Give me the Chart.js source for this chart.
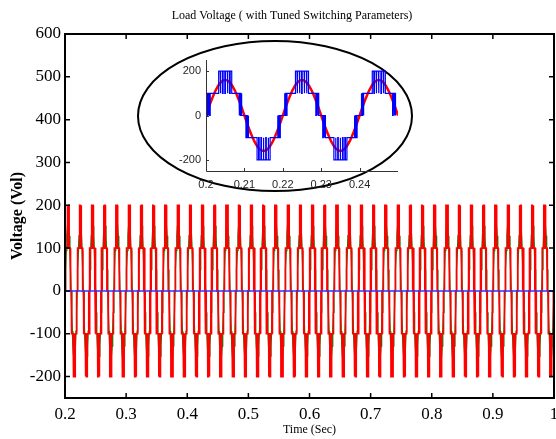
<!DOCTYPE html>
<html>
<head>
<meta charset="utf-8">
<title>Load Voltage</title>
<script src="https://cdn.jsdelivr.net/npm/chart.js@4.4.1/dist/chart.umd.min.js"></script>
<style>
  html, body { margin: 0; padding: 0; background: #fff; }
  #wrap { position: relative; width: 556px; height: 439px; }
  #mainChart { position: absolute; left: 0; top: 0; }
  #zoomChart { position: absolute; left: 140px; top: 50px; }
</style>
</head>
<body>
<div id="wrap">
  <canvas id="mainChart" width="556" height="439"></canvas>
  <canvas id="zoomChart" width="270" height="145"></canvas>
</div>
<script>
// one 50 Hz cycle of the multilevel load voltage: [ms into cycle, volts]
var loadCycle = [
    [0, 0], [0.4, 0], [0.4, 100], [0.55, 100], [0.55, 0], [0.75, 0], [0.75, 100], [0.95, 100], [0.95, 0], [1.1, 0], [1.1, 100],
    [3.3, 100], [3.3, 200], [3.7, 200], [3.7, 100], [3.85, 100], [3.85, 200], [4.3, 200], [4.3, 100], [4.45, 100], [4.45, 200],
    [4.9, 200], [4.9, 100], [5.05, 100], [5.05, 200], [5.55, 200], [5.55, 100], [5.7, 100], [5.7, 200], [6.15, 200], [6.15, 100],
    [6.3, 100], [6.3, 200], [6.7, 200], [6.7, 100],
    [8.6, 100], [8.6, 0], [8.75, 0], [8.75, 100], [9.0, 100], [9.0, 0], [9.15, 0], [9.15, 100], [9.35, 100], [9.35, 0],
    [10.4, 0], [10.4, -100], [10.55, -100], [10.55, 0], [10.75, 0], [10.75, -100], [10.95, -100], [10.95, 0], [11.1, 0], [11.1, -100],
    [13.3, -100], [13.3, -200], [13.7, -200], [13.7, -100], [13.85, -100], [13.85, -200], [14.3, -200], [14.3, -100], [14.45, -100], [14.45, -200],
    [14.9, -200], [14.9, -100], [15.05, -100], [15.05, -200], [15.55, -200], [15.55, -100], [15.7, -100], [15.7, -200], [16.15, -200], [16.15, -100],
    [16.3, -100], [16.3, -200], [16.7, -200], [16.7, -100],
    [18.6, -100], [18.6, 0], [18.75, 0], [18.75, -100], [19.0, -100], [19.0, 0], [19.15, 0], [19.15, -100], [19.35, -100], [19.35, 0],
    [20, 0]
];

// fundamental component over the same cycle, sampled every ms
var fundamentalMs = [0, 1, 2, 3, 4, 5, 6, 7, 8, 9, 10, 11, 12, 13, 14, 15, 16, 17, 18, 19, 20];
var fundamentalVolts = [0, 50, 94, 129, 152, 160, 152, 129, 94, 50, 0, -50, -94, -129, -152, -160, -152, -129, -94, -50, 0];

// neutral point voltage stays at zero
var neutralTime = [0.2, 1];
var neutralVolts = [0, 0];

var periodSec = 0.02;
var mainXTicks = [0.2, 0.3, 0.4, 0.5, 0.6, 0.7, 0.8, 0.9, 1];
var mainYTicks = [-200, -100, 0, 100, 200, 300, 400, 500, 600];
var zoomXTicks = [0.2, 0.21, 0.22, 0.23, 0.24];
var zoomYTicks = [-200, 0, 200];

var SERIF = '"Liberation Serif", "Times New Roman", serif';
var SANS = '"Liberation Sans", Arial, sans-serif';
var TITLE = 'Load Voltage ( with Tuned Switching Parameters)';

// repeat a one-cycle pattern from t0 to t1 (seconds)
function tile(ms, volts, t0, t1) {
    var pts = [];
    for (var k = 0; t0 + k * periodSec < t1 - 1e-9; k++) {
        for (var i = 0; i < ms.length; i++) {
            var t = t0 + k * periodSec + ms[i] / 1000;
            if (t <= t1 + 1e-9) pts.push({ x: t, y: volts[i] });
        }
    }
    return pts;
}

var loadMs = loadCycle.map(p => p[0]);
var loadVolts = loadCycle.map(p => p[1]);

var mainLoad = tile(loadMs, loadVolts, 0.2, 1);
var mainFund = tile(fundamentalMs, fundamentalVolts, 0.2, 1);
var mainNeutral = neutralTime.map((t, i) => ({ x: t, y: neutralVolts[i] }));
var zoomLoad = tile(loadMs, loadVolts, 0.2, 0.25);
var zoomFund = tile(fundamentalMs, fundamentalVolts, 0.2, 0.25);

// box, inward ticks, the callout ellipse and the title
var mainFrame = {
    id: 'mainFrame',
    afterDraw: function (chart) {
        var ctx = chart.ctx, a = chart.chartArea;
        var x = chart.scales.x, y = chart.scales.y;
        ctx.save();
        ctx.strokeStyle = '#000';
        ctx.lineWidth = 1.5;
        ctx.beginPath();
        x.ticks.forEach(t => {
            var px = x.getPixelForValue(t.value);
            ctx.moveTo(px, a.bottom); ctx.lineTo(px, a.bottom - 5);
            ctx.moveTo(px, a.top); ctx.lineTo(px, a.top + 5);
        });
        y.ticks.forEach(t => {
            var py = y.getPixelForValue(t.value);
            ctx.moveTo(a.left, py); ctx.lineTo(a.left + 5, py);
            ctx.moveTo(a.right, py); ctx.lineTo(a.right - 5, py);
        });
        ctx.stroke();
        ctx.lineWidth = 2;
        ctx.strokeRect(a.left, a.top, a.right - a.left, a.bottom - a.top);

        ctx.beginPath();
        ctx.ellipse(275, 116, 137, 75, 0, 0, Math.PI * 2);
        ctx.stroke();

        ctx.fillStyle = '#000';
        ctx.font = '12px ' + SERIF;
        ctx.textAlign = 'center';
        ctx.textBaseline = 'middle';
        ctx.fillText(TITLE, 292, 16);
        ctx.restore();
    }
};

var zoomFrame = {
    id: 'zoomFrame',
    afterDraw: function (chart) {
        var ctx = chart.ctx, a = chart.chartArea;
        var x = chart.scales.x, y = chart.scales.y;
        ctx.save();
        ctx.strokeStyle = '#333';
        ctx.lineWidth = 1;
        ctx.beginPath();
        ctx.moveTo(a.left + 0.5, a.top);
        ctx.lineTo(a.left + 0.5, a.bottom + 0.5);
        ctx.lineTo(a.right, a.bottom + 0.5);
        x.ticks.forEach(t => {
            var px = Math.round(x.getPixelForValue(t.value)) + 0.5;
            ctx.moveTo(px, a.bottom); ctx.lineTo(px, a.bottom - 3);
        });
        y.ticks.forEach(t => {
            var py = Math.round(y.getPixelForValue(t.value)) + 0.5;
            ctx.moveTo(a.left, py); ctx.lineTo(a.left + 3, py);
        });
        ctx.stroke();
        ctx.restore();
    }
};

new Chart(document.getElementById('mainChart').getContext('2d'), {
    type: 'line',
    data: {
        datasets: [
            { label: 'Neutral', data: mainNeutral, borderColor: 'rgba(50, 50, 255, 0.75)', borderWidth: 2, pointRadius: 0, order: 0 },
            { label: 'Load', data: mainLoad, borderColor: '#ff0000', borderWidth: 1.7, pointRadius: 0, order: 1 },
            { label: 'Fundamental', data: mainFund, borderColor: '#008000', borderWidth: 1.3, pointRadius: 0, order: 2 }
        ]
    },
    options: {
        responsive: false,
        animation: false,
        devicePixelRatio: 1,
        events: [],
        layout: { padding: { top: 34, right: 2 } },
        plugins: {
            legend: { display: false },
            tooltip: { enabled: false }
        },
        scales: {
            x: {
                type: 'linear',
                min: 0.2,
                max: 1,
                grid: { display: false, drawTicks: false },
                border: { display: false },
                afterBuildTicks: s => { s.ticks = mainXTicks.map(v => ({ value: v })); },
                afterFit: s => { s.height = 41; s.paddingLeft = 0; s.paddingRight = 0; },
                ticks: {
                    autoSkip: false,
                    maxRotation: 0,
                    padding: 6,
                    color: '#000',
                    font: { family: SERIF, size: 17 },
                    callback: v => String(v)
                },
                title: {
                    display: true,
                    text: 'Time (Sec)',
                    color: '#000',
                    font: { family: SERIF, size: 12 },
                    padding: { top: 0, bottom: 2 }
                }
            },
            y: {
                type: 'linear',
                min: -250,
                max: 600,
                grid: { display: false, drawTicks: false },
                border: { display: false },
                afterBuildTicks: s => { s.ticks = mainYTicks.map(v => ({ value: v })); },
                afterFit: s => { s.width = 65; s.paddingTop = 0; s.paddingBottom = 0; },
                ticks: {
                    padding: 4,
                    color: '#000',
                    font: { family: SERIF, size: 17 },
                    callback: v => String(v)
                },
                title: {
                    display: true,
                    text: 'Voltage (Vol)',
                    color: '#000',
                    font: { family: SERIF, size: 16, weight: 'bold' },
                    padding: { top: 8, bottom: 0 }
                }
            }
        }
    },
    plugins: [mainFrame]
});

// zoomed view of the first 2.5 cycles
new Chart(document.getElementById('zoomChart').getContext('2d'), {
    type: 'line',
    data: {
        datasets: [
            { label: 'Load', data: zoomLoad, borderColor: '#0000ff', borderWidth: 1.2, pointRadius: 0, order: 0 },
            { label: 'Fundamental', data: zoomFund, borderColor: '#ff0000', borderWidth: 2.5, pointRadius: 0, tension: 0.4, order: 1 }
        ]
    },
    options: {
        responsive: false,
        animation: false,
        devicePixelRatio: 1,
        events: [],
        layout: { padding: { top: 10, right: 12 } },
        plugins: {
            legend: { display: false },
            tooltip: { enabled: false }
        },
        scales: {
            x: {
                type: 'linear',
                min: 0.2,
                max: 0.25,
                grid: { display: false, drawTicks: false },
                border: { display: false },
                afterBuildTicks: s => { s.ticks = zoomXTicks.map(v => ({ value: v })); },
                afterFit: s => { s.height = 24; s.paddingLeft = 0; s.paddingRight = 0; },
                ticks: {
                    autoSkip: false,
                    maxRotation: 0,
                    padding: 7,
                    color: '#262626',
                    font: { family: SANS, size: 11 },
                    callback: v => String(v)
                }
            },
            y: {
                type: 'linear',
                min: -250,
                max: 250,
                grid: { display: false, drawTicks: false },
                border: { display: false },
                afterBuildTicks: s => { s.ticks = zoomYTicks.map(v => ({ value: v })); },
                afterFit: s => { s.width = 66; s.paddingTop = 0; s.paddingBottom = 0; },
                ticks: {
                    padding: 5,
                    color: '#262626',
                    font: { family: SANS, size: 11 },
                    callback: v => String(v)
                }
            }
        }
    },
    plugins: [zoomFrame]
});
</script>
</body>
</html>
